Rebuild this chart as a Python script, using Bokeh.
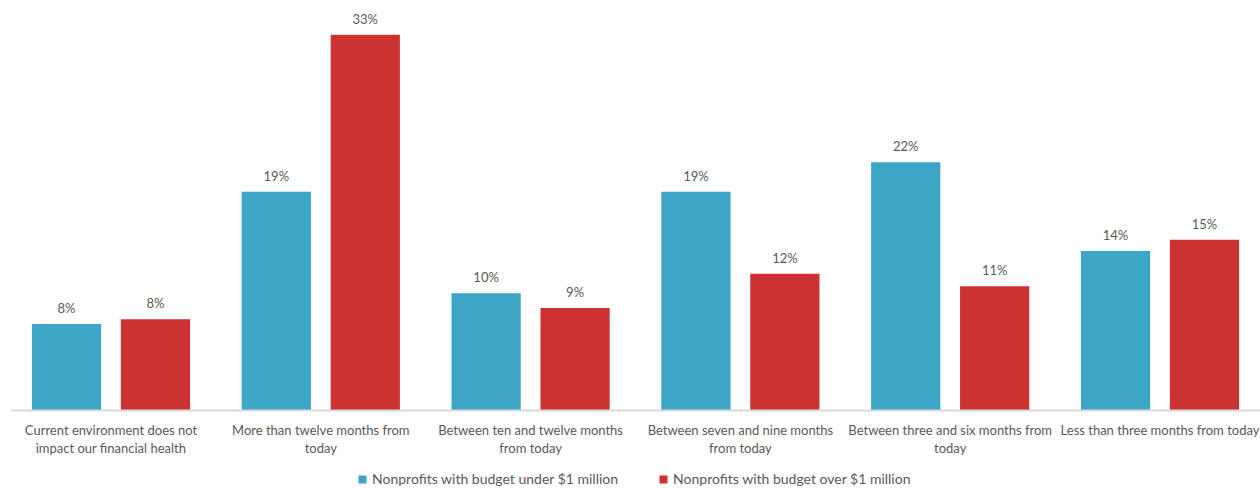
from bokeh.plotting import figure
from bokeh.models import ColumnDataSource, FactorRange, Range1d, Legend, LegendItem, LabelSet
from bokeh.core.properties import value
from bokeh.transform import dodge
from bokeh.embed import file_html
from bokeh.resources import INLINE

categories = [
    "Current environment does not\nimpact our financial health",
    "More than twelve months from\ntoday",
    "Between ten and twelve months\nfrom today",
    "Between seven and nine months\nfrom today",
    "Between three and six months from\ntoday",
    "Less than three months from today",
]
under_1m = [7.6, 19.2, 10.3, 19.2, 21.8, 14.0]
over_1m = [8.0, 33.0, 9.0, 12.0, 10.9, 15.0]
under_labels = ["8%", "19%", "10%", "19%", "22%", "14%"]
over_labels = ["8%", "33%", "9%", "12%", "11%", "15%"]
series_names = ["Nonprofits with budget under $1 million", "Nonprofits with budget over $1 million"]
colors = ["#3da5c6", "#cd3232"]

FONT = "Lato"
TXT = "#595959"

src = ColumnDataSource(dict(cat=categories, under=under_1m, over=over_1m,
                            ulbl=under_labels, olbl=over_labels))

p = figure(frame_width=1250, frame_height=489, output_backend="svg", toolbar_location=None,
           x_range=FactorRange(factors=categories, range_padding=-0.021, range_padding_units="absolute"),
           y_range=Range1d(-6.94, 36.0), y_axis_location=None,
           min_border_left=10, min_border_right=0, min_border_top=0, min_border_bottom=0)
p.outline_line_color = None
p.xgrid.grid_line_color = None
p.ygrid.grid_line_color = None

r1 = p.vbar(x=dodge("cat", -0.212, range=p.x_range), top="under", bottom=0, width=0.33, source=src,
            fill_color=colors[0], line_color=None)
r2 = p.vbar(x=dodge("cat", 0.212, range=p.x_range), top="over", bottom=0, width=0.33, source=src,
            fill_color=colors[1], line_color=None)

for col, lbl, off in [("under", "ulbl", -0.212), ("over", "olbl", 0.212)]:
    ls = LabelSet(x=dodge("cat", off, range=p.x_range), y=col, text=lbl, source=src,
                  text_align="center", text_baseline="bottom", y_offset=8,
                  text_font=value(FONT), text_font_size=value("13px"), text_color=value(TXT))
    p.add_layout(ls)

ax = p.xaxis[0]
ax.fixed_location = 0
ax.axis_line_color = "#d9d9d9"
ax.axis_line_width = 2
ax.major_tick_line_color = None
ax.minor_tick_line_color = None
ax.major_label_standoff = 6
ax.major_label_text_font = FONT
ax.major_label_text_font_size = "13px"
ax.major_label_text_color = TXT
ax.major_label_text_line_height = 1.1

legend = Legend(items=[LegendItem(label=series_names[0], renderers=[r1]),
                       LegendItem(label=series_names[1], renderers=[r2])],
                orientation="horizontal", location=(347, 2),
                glyph_width=10, glyph_height=10, spacing=40, padding=2, margin=0,
                label_text_font=FONT, label_text_font_size="14px", label_text_color=TXT,
                label_standoff=5, border_line_color=None, background_fill_alpha=0)
p.add_layout(legend, "center")

open("out.html", "w").write(file_html(p, INLINE))
